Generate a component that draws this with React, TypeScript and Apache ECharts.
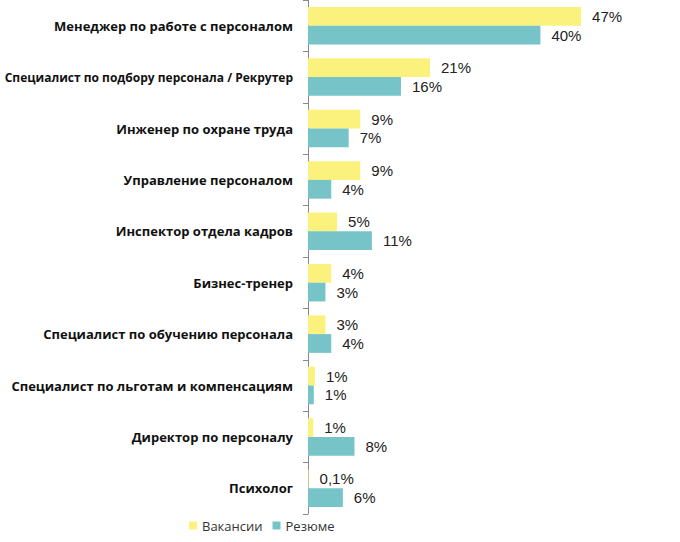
import React, { useEffect, useRef } from "react";
import * as echarts from "echarts";

const categories = [
  "Менеджер по работе с персоналом",
  "Специалист по подбору персонала / Рекрутер",
  "Инженер по охране труда",
  "Управление персоналом",
  "Инспектор отдела кадров",
  "Бизнес-тренер",
  "Специалист по обучению персонала",
  "Специалист по льготам и компенсациям",
  "Директор по персоналу",
  "Психолог",
];
const vacancies = [47, 21, 9, 9, 5, 4, 3, 1.2, 0.9, 0.1];
const vacancyLabels = ["47%", "21%", "9%", "9%", "5%", "4%", "3%", "1%", "1%", "0,1%"];
const resumes = [40, 16, 7, 4, 11, 3, 4, 1, 8, 6];
const resumeLabels = ["40%", "16%", "7%", "4%", "11%", "3%", "4%", "1%", "8%", "6%"];

export default function App() {
  const ref = useRef<HTMLDivElement>(null);
  useEffect(() => {
    const chart = echarts.init(ref.current!, null, { renderer: "svg" });
    const catData = categories.map((c) =>
      c.length > 40 ? { value: c, textStyle: { fontSize: 12 } } : c
    );
    chart.setOption({
      animation: false,
      legend: {
        left: 184,
        top: 514,
        itemWidth: 8,
        itemHeight: 8,
        itemGap: 10,
        icon: "rect",
        textStyle: { fontFamily: "Open Sans", fontSize: 13, color: "#333" },
        data: ["Вакансии", "Резюме"],
      },
      grid: {
        left: 308,
        top: 0,
        height: 514,
        width: 348.6,
        containLabel: false,
        outerBoundsMode: "none",
      },
      xAxis: {
        type: "value",
        min: 0,
        max: 60,
        show: false,
      },
      yAxis: {
        type: "category",
        inverse: true,
        data: catData,
        axisLine: { show: true, lineStyle: { color: "#888", width: 1 } },
        axisTick: { show: true, length: 5, lineStyle: { color: "#888" } },
        axisLabel: {
          margin: 15,
          fontFamily: "Open Sans",
          fontWeight: "bold",
          fontSize: 13,
          color: "#111",
        },
      },
      series: [
        {
          name: "Вакансии",
          type: "bar",
          data: vacancies,
          barGap: "0%",
          barCategoryGap: "27%",
          itemStyle: { color: "#FAF27D" },
          label: {
            show: true,
            position: "right",
            distance: 11,
            fontFamily: "Liberation Sans",
            fontSize: 15,
            color: "#222",
            formatter: (p: any) => vacancyLabels[p.dataIndex],
          },
        },
        {
          name: "Резюме",
          type: "bar",
          data: resumes,
          itemStyle: { color: "#76C4C8" },
          label: {
            show: true,
            position: "right",
            distance: 11,
            fontFamily: "Liberation Sans",
            fontSize: 15,
            color: "#222",
            formatter: (p: any) => resumeLabels[p.dataIndex],
          },
        },
      ],
    });
    return () => chart.dispose();
  }, []);
  return (
    <div
      ref={ref}
      style={{ position: "absolute", left: 0, top: 0, width: 680, height: 542 }}
    />
  );
}
